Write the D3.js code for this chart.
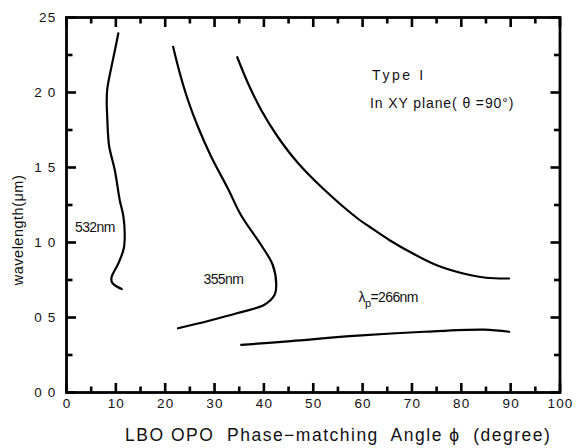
<!DOCTYPE html>
<html>
<head>
<meta charset="utf-8">
<script src="https://cdn.jsdelivr.net/npm/d3@7"></script>
<style>
  body { margin: 0; background: #fff; }
  svg { display: block; font-family: "Liberation Sans", Arial, sans-serif; }
  .axis text { font-size: 13.5px; fill: #111; letter-spacing: 1.2px; }
  .axis path { display: none; }
</style>
</head>
<body>
<div id="chart"></div>
<script>
// phase-matching curves, angle phi (deg) vs wavelength (um)
const phi532 = [10.5, 9.8, 9.1, 8.25, 8.15, 8.25, 8.4, 8.65, 9.8, 10.8, 11.5, 11.8, 11.6, 10.5, 9.15, 9.2, 9.8, 11.2];
const lam532 = [2.395, 2.28, 2.17, 2.02, 1.93, 1.84, 1.73, 1.64, 1.48, 1.28, 1.18, 1.06, 0.96, 0.86, 0.77, 0.735, 0.715, 0.69];

const phi355 = [21.6, 22.95, 24.6, 26.65, 29.35, 32.7, 35.4, 39.5, 41.8, 42.5, 42.15, 40.1, 34.7, 28.7, 22.6];
const lam355 = [2.305, 2.13, 1.95, 1.77, 1.57, 1.36, 1.18, 0.98, 0.85, 0.72, 0.65, 0.585, 0.53, 0.477, 0.428];

const phi266a = [34.6, 36.8, 39.5, 42.8, 46.9, 52.3, 59.0, 61.4, 65.4, 70.1, 74.9, 80.2, 85.0, 89.7];
const lam266a = [2.235, 2.06, 1.88, 1.705, 1.53, 1.35, 1.16, 1.105, 1.017, 0.928, 0.85, 0.795, 0.765, 0.76];

const phi266b = [35.4, 45.5, 59.0, 72.5, 84.6, 89.7];
const lam266b = [0.317, 0.343, 0.379, 0.405, 0.419, 0.405];

const xTicks = [0, 10, 20, 30, 40, 50, 60, 70, 80, 90, 100];
const xMinor = [5, 15, 25, 35, 45, 55, 65, 75, 85, 95];
const yTicks = [0, 0.5, 1, 1.5, 2, 2.5];
const yTickLabels = ['0 0', '0 5', '1 0', '1 5', '2 0', '25'];
const yMinor = [0.25, 0.75, 1.25, 1.75, 2.25];

const width = 578, height = 448;
const margin = {top: 17.5, right: 18, bottom: 55.5, left: 66.5};

const svg = d3.select('#chart').append('svg')
  .attr('width', width)
  .attr('height', height)

const x = d3.scaleLinear().domain([0, 100]).range([margin.left, width - margin.right])
const y = d3.scaleLinear().domain([0, 2.5]).range([height - margin.bottom, margin.top])

// tick labels from the axes
svg.append('g').attr('class', 'axis')
  .attr('transform', 'translate(0,' + y(0) + ')')
  .call(d3.axisBottom(x).tickValues(xTicks).tickSize(0).tickPadding(6))
svg.append('g').attr('class', 'axis')
  .attr('transform', 'translate(' + x(0) + ',0)')
  .call(d3.axisLeft(y).tickValues(yTicks).tickSize(0).tickPadding(10)
    .tickFormat((d, i) => yTickLabels[i]))

svg.append('rect')
  .attr('x', x(0)).attr('y', y(2.5))
  .attr('width', x(100) - x(0)).attr('height', y(0) - y(2.5))
  .attr('fill', 'none').attr('stroke', '#000').attr('stroke-width', 2.8)

const line = d3.line()
  .x((d) => x(d[0]))
  .y((d) => y(d[1]))
  .curve(d3.curveCatmullRom)

const series = [[phi532, lam532], [phi355, lam355], [phi266a, lam266a], [phi266b, lam266b]];
series.forEach((s) => {
  svg.append('path')
    .datum(s[0].map((p, i) => [p, s[1][i]]))
    .attr('d', line)
    .attr('fill', 'none')
    .attr('stroke', '#000')
    .attr('stroke-width', 2.2)
    .attr('stroke-linecap', 'round')
})

// tick marks as small filled bars, pointing into the plot
const tw = 2.6
const ticks = svg.append('g').attr('fill', '#000')
const xt = (vals, len) => {
  ticks.selectAll(null).data(vals).enter().append('rect')
    .attr('x', (d) => x(d) - tw / 2).attr('y', y(0) - len)
    .attr('width', tw).attr('height', len)
  ticks.selectAll(null).data(vals).enter().append('rect')
    .attr('x', (d) => x(d) - tw / 2).attr('y', y(2.5))
    .attr('width', tw).attr('height', len)
}
const yt = (vals, len) => {
  ticks.selectAll(null).data(vals).enter().append('rect')
    .attr('x', x(0)).attr('y', (d) => y(d) - tw / 2)
    .attr('width', len).attr('height', tw)
  ticks.selectAll(null).data(vals).enter().append('rect')
    .attr('x', x(100) - len).attr('y', (d) => y(d) - tw / 2)
    .attr('width', len).attr('height', tw)
}
xt(xTicks, 9.5)
xt(xMinor, 6)
yt(yTicks, 9.5)
yt(yMinor, 6)

// labels
const lbl = (tx, ty, txt, size, ls) => svg.append('text')
  .attr('x', tx).attr('y', ty)
  .style('font-size', size + 'px')
  .style('letter-spacing', ls + 'px')
  .style('white-space', 'pre')
  .attr('fill', '#111')
  .text(txt)

lbl(75, 231.5, '532nm', 14, -0.6)
lbl(203.5, 283.5, '355nm', 14, -0.6)
const l266 = lbl(358.5, 301.5, 'λ', 14, -0.6)
l266.append('tspan').attr('dy', 5).attr('fill', '#111').style('font-size', '11px').text('p')
l266.append('tspan').attr('dy', -5).attr('fill', '#111').text('=266nm')

lbl(372, 80, 'Type I', 14, 2.6)
lbl(370, 108, 'In XY plane( θ =90°)', 14, 0.9)

lbl(125, 441, 'LBO OPO  Phase−matching  Angle ϕ  (degree)', 17.5, 1.5)

svg.append('text')
  .attr('transform', 'translate(23,230) rotate(-90)')
  .attr('text-anchor', 'middle')
  .style('font-size', '14.5px')
  .style('letter-spacing', '0.5px')
  .attr('fill', '#111')
  .text('wavelength(μm)')
</script>
</body>
</html>
